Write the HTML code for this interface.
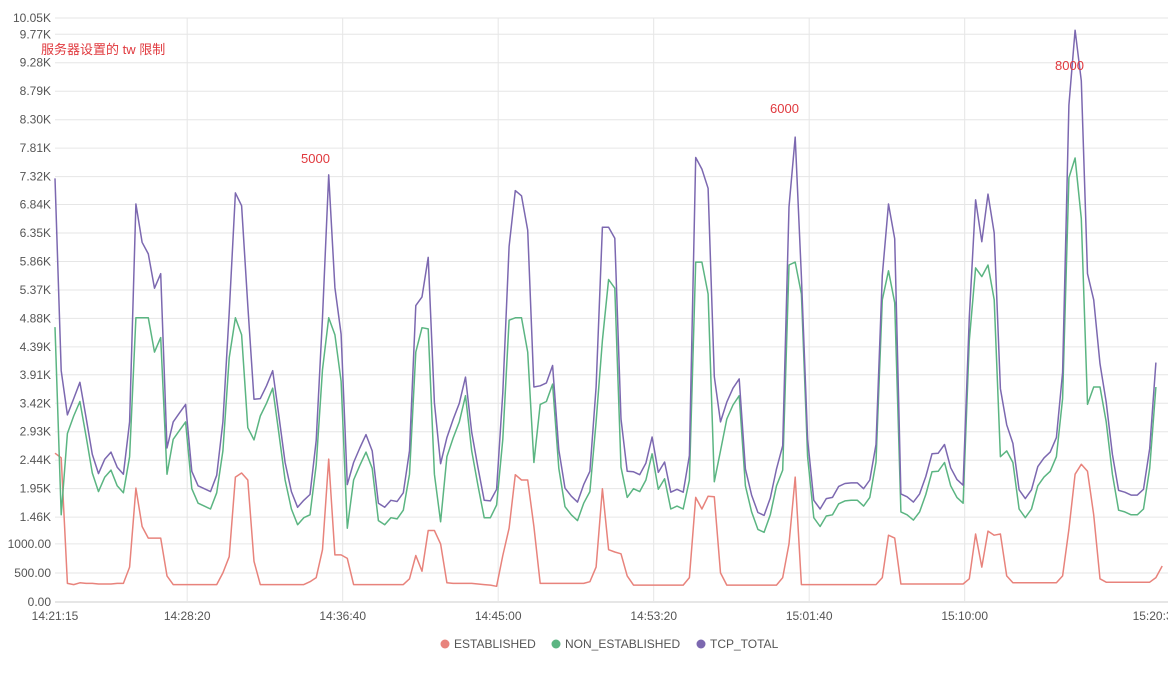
<!DOCTYPE html>
<html><head><meta charset="utf-8"><style>
html,body{margin:0;padding:0;background:#fff;width:1168px;height:674px;overflow:hidden}
svg{display:block;font-family:"Liberation Sans","Noto Sans CJK SC",sans-serif}
</style></head><body>
<svg id="chart" width="1168" height="674" viewBox="0 0 1168 674"></svg>
<script>
const stepSeconds = 20;
const yTickValues = [0,0.5,1,1.46,1.95,2.44,2.93,3.42,3.91,4.39,4.88,5.37,5.86,6.35,6.84,7.32,7.81,8.30,8.79,9.28,9.77,10.05];
const yTickLabels = ["0.00","500.00","1000.00","1.46K","1.95K","2.44K","2.93K","3.42K","3.91K","4.39K","4.88K","5.37K","5.86K","6.35K","6.84K","7.32K","7.81K","8.30K","8.79K","9.28K","9.77K","10.05K"];
const xTickSeconds = [0,425,925,1425,1925,2425,2925,3540];
const xTickLabels = ["14:21:15","14:28:20","14:36:40","14:45:00","14:53:20","15:01:40","15:10:00","15:20:30"];
const nonEstablished = [4.73,1.5,2.9,3.2,3.45,2.85,2.22,1.9,2.15,2.27,2.0,1.88,2.5,4.89,4.89,4.89,4.3,4.55,2.2,2.8,2.95,3.1,1.95,1.7,1.65,1.6,1.88,2.6,4.2,4.89,4.6,3.0,2.79,3.2,3.42,3.68,2.9,2.1,1.6,1.33,1.45,1.5,2.36,4.0,4.89,4.6,3.8,1.27,2.1,2.35,2.58,2.3,1.4,1.33,1.45,1.43,1.58,2.2,4.3,4.72,4.7,2.2,1.38,2.5,2.82,3.1,3.55,2.6,2.0,1.45,1.45,1.67,2.8,4.85,4.89,4.89,4.3,2.4,3.4,3.45,3.75,2.3,1.64,1.5,1.4,1.7,1.9,3.1,4.5,5.55,5.4,2.32,1.8,1.95,1.9,2.1,2.55,1.94,2.12,1.6,1.65,1.6,2.1,5.85,5.85,5.3,2.07,2.6,3.15,3.39,3.55,2.0,1.55,1.25,1.2,1.5,2.0,2.27,5.8,5.85,5.3,2.5,1.45,1.3,1.48,1.5,1.69,1.74,1.75,1.75,1.65,1.8,2.41,5.2,5.7,5.15,1.55,1.5,1.41,1.55,1.85,2.24,2.25,2.4,2.0,1.8,1.7,4.5,5.75,5.6,5.8,5.2,2.5,2.6,2.4,1.6,1.45,1.6,2.0,2.15,2.25,2.5,3.5,7.3,7.64,6.6,3.4,3.7,3.7,3.1,2.2,1.58,1.55,1.5,1.5,1.6,2.3,3.7];
const established = [2.56,2.48,0.32,0.30,0.33,0.32,0.32,0.31,0.31,0.31,0.32,0.32,0.6,1.96,1.3,1.1,1.1,1.1,0.45,0.30,0.30,0.30,0.30,0.30,0.30,0.30,0.30,0.5,0.78,2.15,2.22,2.1,0.7,0.30,0.30,0.30,0.30,0.30,0.30,0.30,0.30,0.35,0.42,0.9,2.46,0.81,0.81,0.75,0.30,0.30,0.30,0.30,0.30,0.30,0.30,0.30,0.30,0.4,0.8,0.53,1.23,1.23,1.0,0.33,0.32,0.32,0.32,0.32,0.31,0.30,0.29,0.27,0.8,1.27,2.19,2.1,2.1,1.3,0.32,0.32,0.32,0.32,0.32,0.32,0.32,0.32,0.35,0.6,1.95,0.9,0.86,0.83,0.45,0.29,0.29,0.29,0.29,0.29,0.29,0.29,0.29,0.29,0.42,1.8,1.6,1.82,1.81,0.5,0.29,0.29,0.29,0.29,0.29,0.29,0.29,0.29,0.29,0.42,1.0,2.15,0.3,0.3,0.3,0.3,0.3,0.3,0.3,0.3,0.3,0.3,0.3,0.3,0.3,0.42,1.15,1.1,0.31,0.31,0.31,0.31,0.31,0.31,0.31,0.31,0.31,0.31,0.31,0.4,1.17,0.6,1.22,1.15,1.17,0.45,0.33,0.33,0.33,0.33,0.33,0.33,0.33,0.33,0.45,1.25,2.2,2.37,2.25,1.5,0.4,0.34,0.34,0.34,0.34,0.34,0.34,0.34,0.34,0.42,0.62];
const tcpTotal = established.map((v,i)=>v+nonEstablished[i]);

const NS="http://www.w3.org/2000/svg";
const svg=document.getElementById('chart');
const plotL=55, plotR=1156, plotT=18, plotB=602, yMax=10.05, xPxPerSec=0.311;
const xs=t=>plotL+t*xPxPerSec;
const xi=i=>xs(i*stepSeconds);
const ys=v=>plotB-(v/yMax)*(plotB-plotT);
function mk(tag,attrs){const e=document.createElementNS(NS,tag);for(const k in attrs)e.setAttribute(k,attrs[k]);svg.appendChild(e);return e;}

yTickValues.forEach((v,i)=>{
  const y=ys(v);
  const g=mk('line',{x1:plotL,x2:1168,y1:y,y2:y,stroke:i===0?'#cccccc':'#e6e6e6','stroke-width':1});
  
  
  const t=mk('text',{x:51,y:y+4,'text-anchor':'end','font-size':12,fill:'#555'});
  t.textContent=yTickLabels[i];
  
  
});
xTickSeconds.forEach((s,i)=>{
  const x=xs(s);
  if(i>0&&i<xTickSeconds.length-1){
    const g=mk('line',{x1:x,x2:x,y1:plotT,y2:plotB,stroke:'#e6e6e6','stroke-width':1});
    
    
  }
  const t=mk('text',{x:x,y:620,'text-anchor':'middle','font-size':12,fill:'#555'});
  t.textContent=xTickLabels[i];
  
  
});
function series(data,color,name){
  const pts=data.map((v,i)=>xi(i).toFixed(1)+','+ys(v).toFixed(1)).join(' ');
  const p=mk('polyline',{points:pts,fill:'none',stroke:color,'stroke-width':1.5,'stroke-linejoin':'round'});
  
  
}
series(established,'#e8837c','established-line');
series(nonEstablished,'#5bb582','non-established-line');
series(tcpTotal,'#7c68b0','tcp-total-line');

const anns=[["服务器设置的 tw 限制",41,54],["5000",301,163],["6000",770,113],["8000",1055,70]];
anns.forEach(a=>{
  const t=mk('text',{x:a[1],y:a[2],'font-size':13,fill:'#e0393e'});
  t.textContent=a[0];
  
  
});
const legend=[["ESTABLISHED",'#e8837c',441],["NON_ESTABLISHED",'#5bb582',552],["TCP_TOTAL",'#7c68b0',697]];
legend.forEach(l=>{
  const c=mk('circle',{cx:l[2]+4,cy:644,r:4.5,fill:l[1]});
  
  
  const t=mk('text',{x:l[2]+13,y:648,'font-size':12,fill:'#555'});
  t.textContent=l[0];
  
  
});
</script>
</body></html>
